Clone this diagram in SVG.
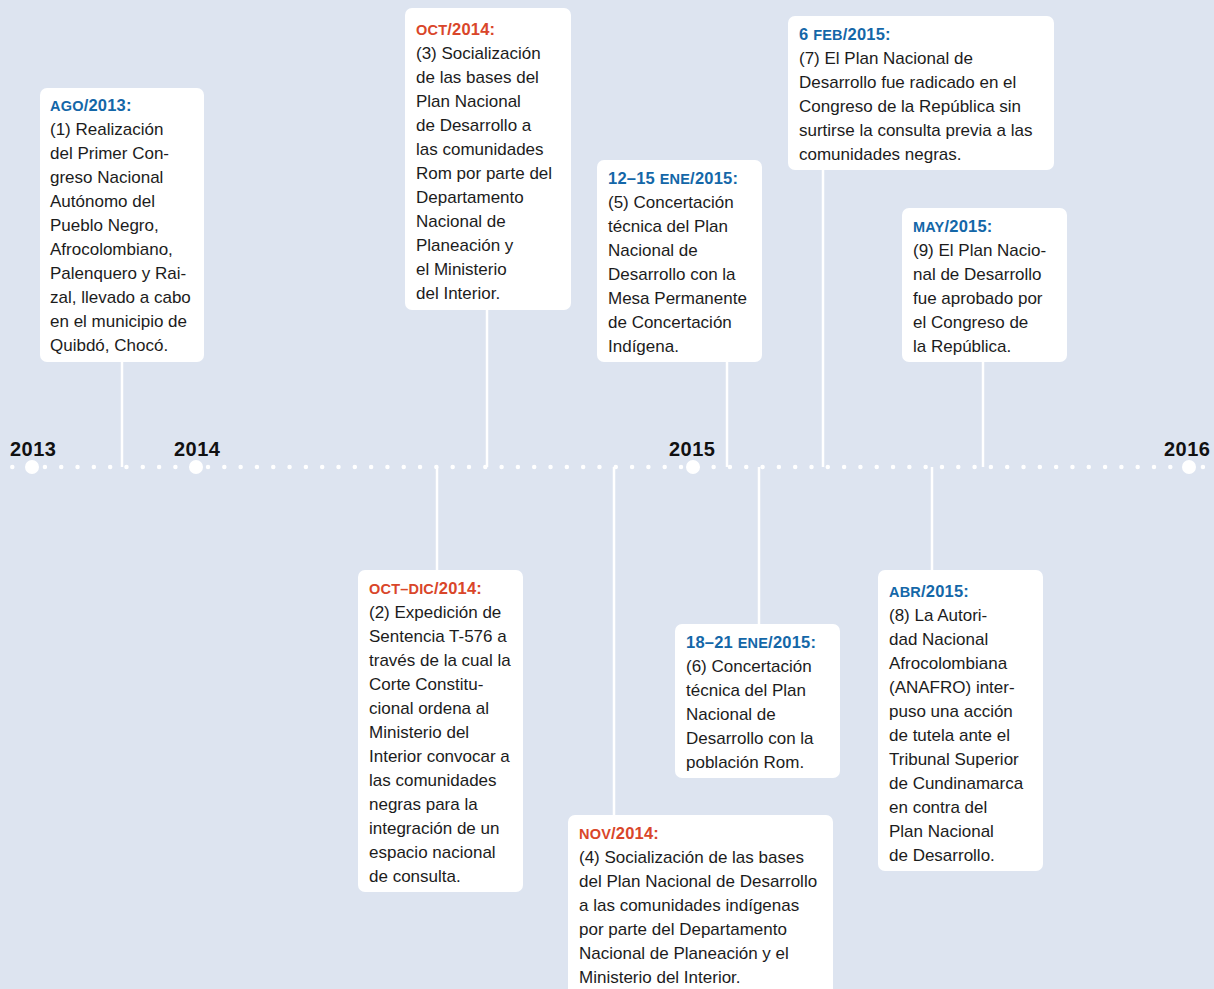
<svg xmlns="http://www.w3.org/2000/svg" width="1214" height="989" viewBox="0 0 1214 989">
<style>
.bg{fill:#dde4f0}
.box{fill:#ffffff}
.ln{stroke:#ffffff;stroke-width:2.5;fill:none}
.t{font-family:"Liberation Sans",Arial,sans-serif;font-size:17px;fill:#1c1c1c}
.h{font-family:"Liberation Sans",Arial,sans-serif;font-weight:bold;font-size:16.5px;letter-spacing:0.2px}
.m{font-size:14.5px}
.blue{fill:#1467a8}
.red{fill:#d9462a}
.yr{font-family:"Liberation Sans",Arial,sans-serif;font-weight:bold;font-size:20px;fill:#111111;letter-spacing:0.5px}
</style>
<rect class="bg" x="0" y="0" width="1214" height="989"/>
<g id="connectors">
<line class="ln" x1="122" y1="360" x2="122" y2="467"/>
<line class="ln" x1="487" y1="308" x2="487" y2="467"/>
<line class="ln" x1="727" y1="360" x2="727" y2="467"/>
<line class="ln" x1="823" y1="168" x2="823" y2="467"/>
<line class="ln" x1="983" y1="360" x2="983" y2="467"/>
<line class="ln" x1="437" y1="467" x2="437" y2="572"/>
<line class="ln" x1="614" y1="467" x2="614" y2="817"/>
<line class="ln" x1="759" y1="467" x2="759" y2="626"/>
<line class="ln" x1="932" y1="467" x2="932" y2="572"/>
</g>
<g id="timeline">
<line x1="12.3" y1="467" x2="1204" y2="467" stroke="#ffffff" stroke-width="4.5" stroke-linecap="round" stroke-dasharray="0 16.31"/>
<circle cx="32" cy="467" r="7" fill="#ffffff"/>
<circle cx="196" cy="467" r="7" fill="#ffffff"/>
<circle cx="693" cy="467" r="7" fill="#ffffff"/>
<circle cx="1189" cy="467" r="7" fill="#ffffff"/>
<text class="yr" x="10" y="456">2013</text>
<text class="yr" x="174" y="456">2014</text>
<text class="yr" x="669" y="456">2015</text>
<text class="yr" x="1164" y="456">2016</text>
</g>
<g id="n1">
<rect class="box" x="40" y="88" width="164" height="274" rx="7"/>
<text class="h blue" x="50" y="111"><tspan class="m">AGO</tspan>/2013:</text>
<text class="t" x="50" y="135">(1) Realización</text>
<text class="t" x="50" y="159">del Primer Con-</text>
<text class="t" x="50" y="183">greso Nacional</text>
<text class="t" x="50" y="207">Autónomo del</text>
<text class="t" x="50" y="231">Pueblo Negro,</text>
<text class="t" x="50" y="255">Afrocolombiano,</text>
<text class="t" x="50" y="279">Palenquero y Rai-</text>
<text class="t" x="50" y="303">zal, llevado a cabo</text>
<text class="t" x="50" y="327">en el municipio de</text>
<text class="t" x="50" y="351">Quibdó, Chocó.</text>
</g>
<g id="n3">
<rect class="box" x="405" y="8" width="166" height="302" rx="7"/>
<text class="h red" x="416" y="35"><tspan class="m">OCT</tspan>/2014:</text>
<text class="t" x="416" y="59">(3) Socialización</text>
<text class="t" x="416" y="83">de las bases del</text>
<text class="t" x="416" y="107">Plan Nacional</text>
<text class="t" x="416" y="131">de Desarrollo a</text>
<text class="t" x="416" y="155">las comunidades</text>
<text class="t" x="416" y="179">Rom por parte del</text>
<text class="t" x="416" y="203">Departamento</text>
<text class="t" x="416" y="227">Nacional de</text>
<text class="t" x="416" y="251">Planeación y</text>
<text class="t" x="416" y="275">el Ministerio</text>
<text class="t" x="416" y="299">del Interior.</text>
</g>
<g id="n5">
<rect class="box" x="597" y="160" width="165" height="202" rx="7"/>
<text class="h blue" x="608" y="184">12–15 <tspan class="m">ENE</tspan>/2015:</text>
<text class="t" x="608" y="208">(5) Concertación</text>
<text class="t" x="608" y="232">técnica del Plan</text>
<text class="t" x="608" y="256">Nacional de</text>
<text class="t" x="608" y="280">Desarrollo con la</text>
<text class="t" x="608" y="304">Mesa Permanente</text>
<text class="t" x="608" y="328">de Concertación</text>
<text class="t" x="608" y="352">Indígena.</text>
</g>
<g id="n7">
<rect class="box" x="788" y="16" width="266" height="154" rx="7"/>
<text class="h blue" x="799" y="40">6 <tspan class="m">FEB</tspan>/2015:</text>
<text class="t" x="799" y="64">(7) El Plan Nacional de</text>
<text class="t" x="799" y="88">Desarrollo fue radicado en el</text>
<text class="t" x="799" y="112">Congreso de la República sin</text>
<text class="t" x="799" y="136">surtirse la consulta previa a las</text>
<text class="t" x="799" y="160">comunidades negras.</text>
</g>
<g id="n9">
<rect class="box" x="902" y="208" width="165" height="154" rx="7"/>
<text class="h blue" x="913" y="232"><tspan class="m">MAY</tspan>/2015:</text>
<text class="t" x="913" y="256">(9) El Plan Nacio-</text>
<text class="t" x="913" y="280">nal de Desarrollo</text>
<text class="t" x="913" y="304">fue aprobado por</text>
<text class="t" x="913" y="328">el Congreso de</text>
<text class="t" x="913" y="352">la República.</text>
</g>
<g id="n2">
<rect class="box" x="358" y="570" width="165" height="322" rx="7"/>
<text class="h red" x="369" y="594"><tspan class="m">OCT–DIC</tspan>/2014:</text>
<text class="t" x="369" y="618">(2) Expedición de</text>
<text class="t" x="369" y="642">Sentencia T-576 a</text>
<text class="t" x="369" y="666">través de la cual la</text>
<text class="t" x="369" y="690">Corte Constitu-</text>
<text class="t" x="369" y="714">cional ordena al</text>
<text class="t" x="369" y="738">Ministerio del</text>
<text class="t" x="369" y="762">Interior convocar a</text>
<text class="t" x="369" y="786">las comunidades</text>
<text class="t" x="369" y="810">negras para la</text>
<text class="t" x="369" y="834">integración de un</text>
<text class="t" x="369" y="858">espacio nacional</text>
<text class="t" x="369" y="882">de consulta.</text>
</g>
<g id="n4">
<rect class="box" x="568" y="815" width="265" height="184" rx="7"/>
<text class="h red" x="579" y="839"><tspan class="m">NOV</tspan>/2014:</text>
<text class="t" x="579" y="863">(4) Socialización de las bases</text>
<text class="t" x="579" y="887">del Plan Nacional de Desarrollo</text>
<text class="t" x="579" y="911">a las comunidades indígenas</text>
<text class="t" x="579" y="935">por parte del Departamento</text>
<text class="t" x="579" y="959">Nacional de Planeación y el</text>
<text class="t" x="579" y="983">Ministerio del Interior.</text>
</g>
<g id="n6">
<rect class="box" x="675" y="624" width="165" height="154" rx="7"/>
<text class="h blue" x="686" y="648">18–21 <tspan class="m">ENE</tspan>/2015:</text>
<text class="t" x="686" y="672">(6) Concertación</text>
<text class="t" x="686" y="696">técnica del Plan</text>
<text class="t" x="686" y="720">Nacional de</text>
<text class="t" x="686" y="744">Desarrollo con la</text>
<text class="t" x="686" y="768">población Rom.</text>
</g>
<g id="n8">
<rect class="box" x="878" y="570" width="165" height="301" rx="7"/>
<text class="h blue" x="889" y="597"><tspan class="m">ABR</tspan>/2015:</text>
<text class="t" x="889" y="621">(8) La Autori-</text>
<text class="t" x="889" y="645">dad Nacional</text>
<text class="t" x="889" y="669">Afrocolombiana</text>
<text class="t" x="889" y="693">(ANAFRO) inter-</text>
<text class="t" x="889" y="717">puso una acción</text>
<text class="t" x="889" y="741">de tutela ante el</text>
<text class="t" x="889" y="765">Tribunal Superior</text>
<text class="t" x="889" y="789">de Cundinamarca</text>
<text class="t" x="889" y="813">en contra del</text>
<text class="t" x="889" y="837">Plan Nacional</text>
<text class="t" x="889" y="861">de Desarrollo.</text>
</g>
</svg>
